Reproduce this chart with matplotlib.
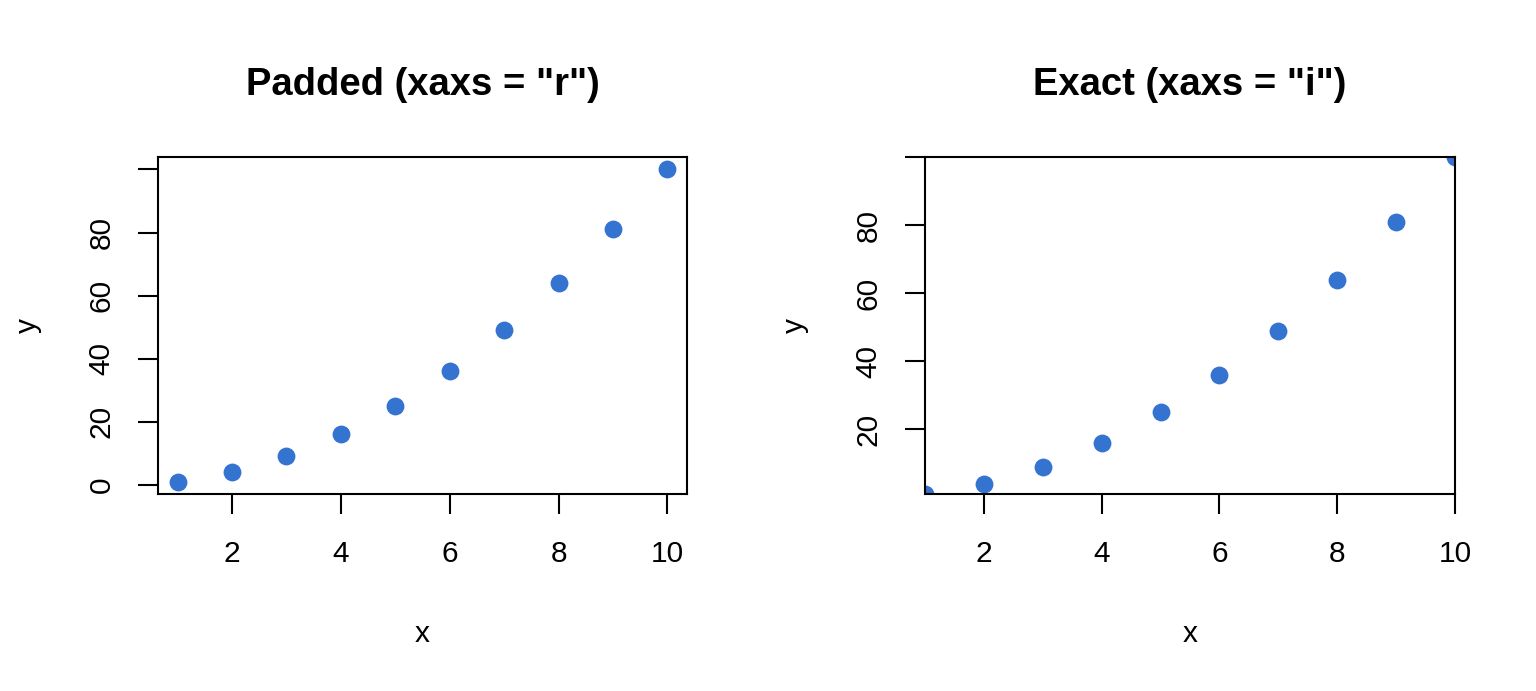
import matplotlib
matplotlib.use("Agg")
import matplotlib.pyplot as plt

plt.rcParams['font.family'] = ['Liberation Sans', 'DejaVu Sans']

x = [1, 2, 3, 4, 5, 6, 7, 8, 9, 10]
y = [1, 4, 9, 16, 25, 36, 49, 64, 81, 100]
titles = ['Padded (xaxs = "r")', 'Exact (xaxs = "i")']
xticks = [2, 4, 6, 8, 10]
yticks_left = [0, 20, 40, 60, 80, 100]
ylabels_left = ['0', '20', '40', '60', '80', '']
yticks_right = [20, 40, 60, 80, 100]
ylabels_right = ['20', '40', '60', '80', '']
point_color = '#3474D0'

W, H = 1536, 691
fig = plt.figure(figsize=(W / 100, H / 100), dpi=100)

def px_rect(l, t, r, b):
    return [l / W, 1 - b / H, (r - l) / W, (b - t) / H]

ax1 = fig.add_axes(px_rect(158, 157, 687, 494))
ax2 = fig.add_axes(px_rect(925, 157, 1455, 494))

def style(ax, title, yt, yl):
    ax.scatter(x, y, s=165, color=point_color, linewidths=0, zorder=2)
    ax.set_xticks(xticks)
    ax.set_xticklabels([str(v) for v in xticks])
    ax.set_yticks(yt)
    ax.set_yticklabels(yl, rotation=90, va='center')
    for sp in ax.spines.values():
        sp.set_linewidth(1.5)
        sp.set_color('black')
    ax.tick_params(axis='both', length=14.4, width=1.5, labelsize=21.5, color='black')
    ax.tick_params(axis='x', pad=19)
    ax.tick_params(axis='y', pad=16)
    ax.set_title(title, fontsize=27.5, fontweight='bold', pad=44.5)
    ax.set_xlabel('x', fontsize=21.5, labelpad=37.5)
    ax.set_ylabel('y', fontsize=21.5, labelpad=33)

style(ax1, titles[0], yticks_left, ylabels_left)
ax1.set_xlim(1 - 0.36, 10 + 0.36)
ax1.set_ylim(1 - 3.96, 100 + 3.96)

style(ax2, titles[1], yticks_right, ylabels_right)
ax2.set_xlim(1, 10)
ax2.set_ylim(1, 100)

fig.savefig('out.png', dpi=100)
